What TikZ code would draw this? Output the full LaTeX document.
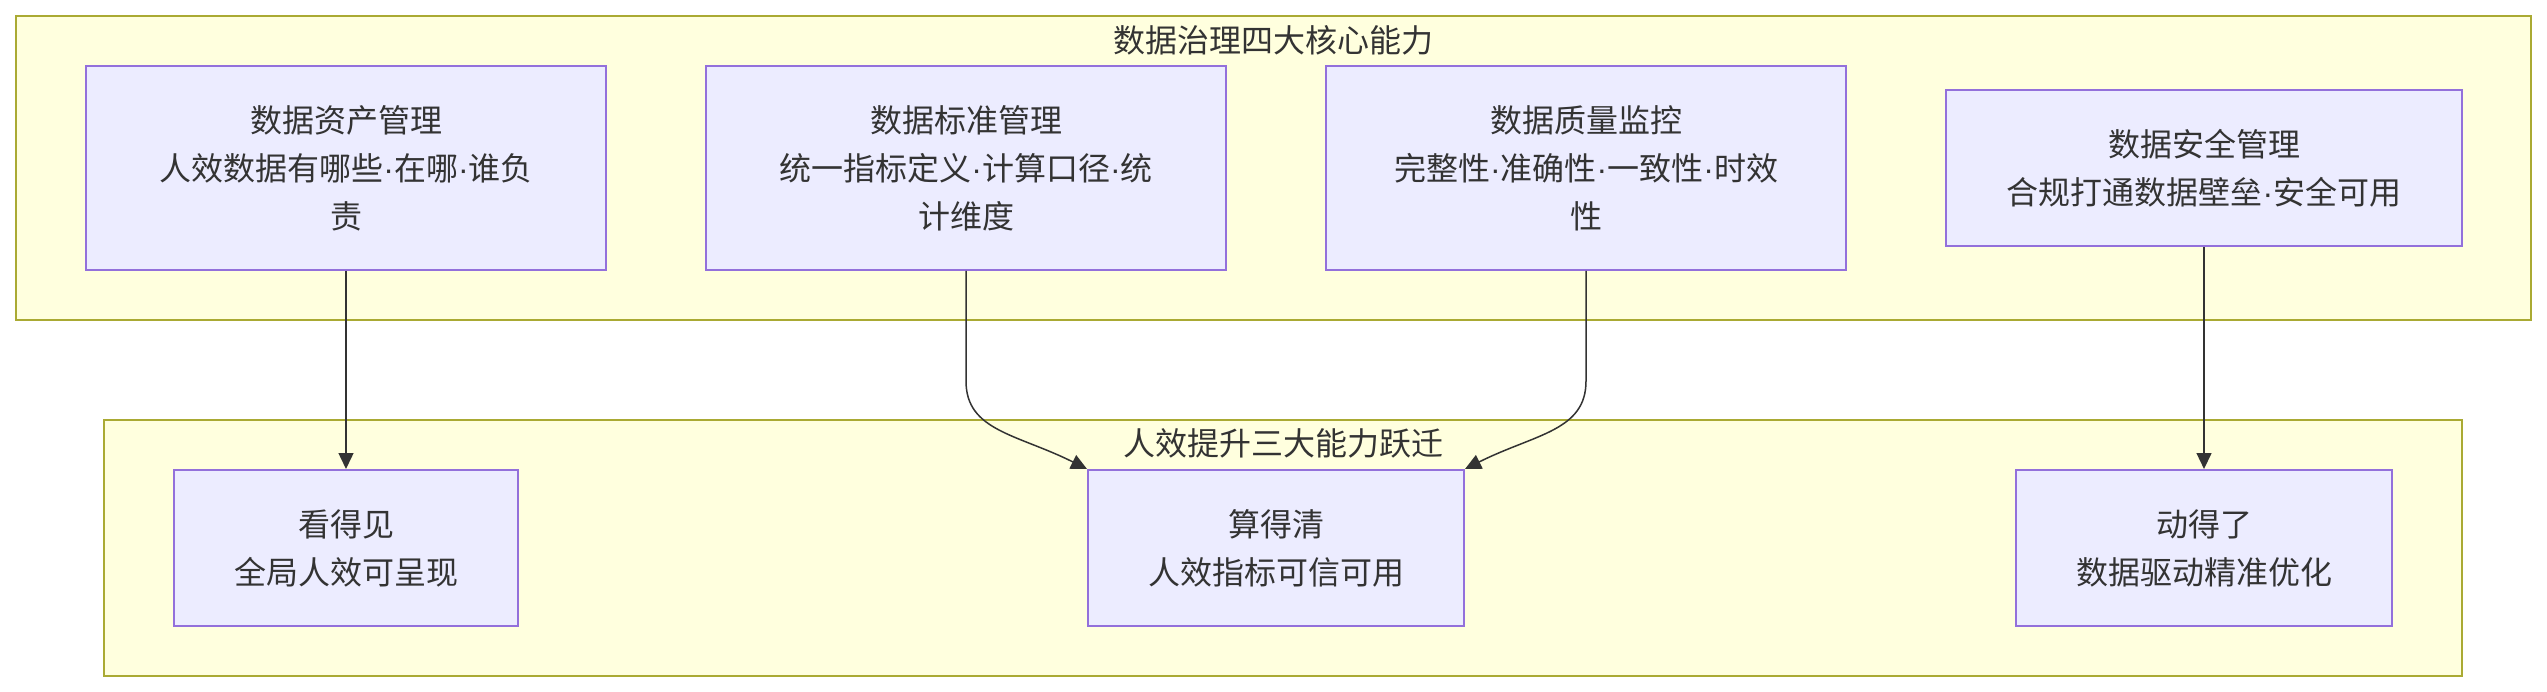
\documentclass[tikz,border=0pt]{standalone}
\usepackage{fontspec}
\setmainfont{Noto Sans CJK SC}
\newfontfamily\latinf{Liberation Sans}
\newcommand{\mdot}{{\latinf ·}}
\usetikzlibrary{arrows.meta,calc}
\definecolor{clfill}{HTML}{FFFFDE}
\definecolor{clstroke}{HTML}{AAAA33}
\definecolor{ndfill}{HTML}{ECECFF}
\definecolor{ndstroke}{HTML}{9370DB}
\definecolor{txt}{HTML}{333333}
\tikzset{
  cluster/.style={draw=clstroke,fill=clfill,line width=2pt},
  nodebox/.style={draw=ndstroke,fill=ndfill,line width=2pt,align=center,
    text=txt,font=\fontsize{32}{48}\selectfont,inner sep=0pt},
  cltitle/.style={text=txt,font=\fontsize{32}{40}\selectfont,inner sep=0pt},
  edge/.style={draw=txt,line width=1.5pt,-{Triangle[length=16pt,width=15pt]}}
}
\begin{document}
\begin{tikzpicture}[x=1pt,y=-1pt]
\useasboundingbox (0,0) rectangle (2547,692);
\fill[white] (0,0) rectangle (2547,692);
% clusters
\draw[cluster] (16,16) rectangle (2531,320);
\node[cltitle] (t1) at (1273,40) {数据治理四大核心能力};
\draw[cluster] (104,420) rectangle (2462,676);
\node[cltitle] (t2) at (1283,443) {人效提升三大能力跃迁};
% top nodes
\node[nodebox,minimum width=520pt,minimum height=204pt] (A) at (346,168)
  {数据资产管理\\人效数据有哪些\mdot 在哪\mdot 谁负\\责};
\node[nodebox,minimum width=520pt,minimum height=204pt] (B) at (966,168)
  {数据标准管理\\统一指标定义\mdot 计算口径\mdot 统\\计维度};
\node[nodebox,minimum width=520pt,minimum height=204pt] (C) at (1586,168)
  {数据质量监控\\完整性\mdot 准确性\mdot 一致性\mdot 时效\\性};
\node[nodebox,minimum width=516pt,minimum height=156pt] (D) at (2204,168)
  {数据安全管理\\合规打通数据壁垒\mdot 安全可用};
% bottom nodes
\node[nodebox,minimum width=344pt,minimum height=156pt] (E) at (346,548)
  {看得见\\全局人效可呈现};
\node[nodebox,minimum width=376pt,minimum height=156pt] (F) at (1276,548)
  {算得清\\人效指标可信可用};
\node[nodebox,minimum width=376pt,minimum height=156pt] (G) at (2204,548)
  {动得了\\数据驱动精准优化};
% edges
\draw[edge] (A.south) -- (E.north);
\draw[edge] (D.south) -- (G.north);
\draw[edge] (B.south) -- ($(B.south)+(0,110)$)
  .. controls ($(B.south)+(0,160)$) and ($(F.north west)+(-70,-35)$) .. (F.north west);
\draw[edge] (C.south) -- ($(C.south)+(0,110)$)
  .. controls ($(C.south)+(0,160)$) and ($(F.north east)+(70,-35)$) .. (F.north east);
\end{tikzpicture}
\end{document}
